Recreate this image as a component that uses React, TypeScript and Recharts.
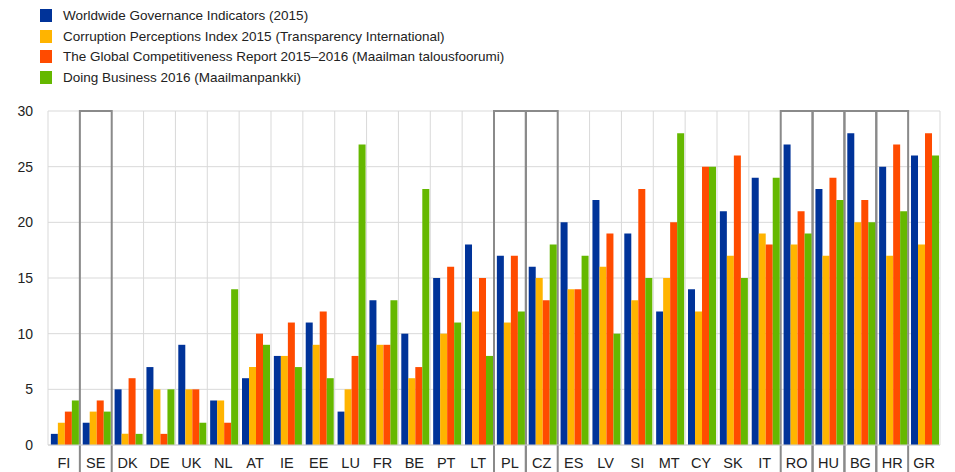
import { BarChart, Bar, XAxis, YAxis, CartesianGrid, ReferenceArea } from 'recharts';

const countries = ['FI', 'SE', 'DK', 'DE', 'UK', 'NL', 'AT', 'IE', 'EE', 'LU', 'FR', 'BE', 'PT', 'LT',
    'PL', 'CZ', 'ES', 'LV', 'SI', 'MT', 'CY', 'SK', 'IT', 'RO', 'HU', 'BG', 'HR', 'GR'];

const wgi = [1, 2, 5, 7, 9, 4, 6, 8, 11, 3, 13, 10, 15, 18, 17, 16, 20, 22, 19, 12, 14, 21, 24, 27, 23, 28, 25, 26];
const cpi = [2, 3, 1, 5, 5, 4, 7, 8, 9, 5, 9, 6, 10, 12, 11, 15, 14, 16, 13, 15, 12, 17, 19, 18, 17, 20, 17, 18];
const gcr = [3, 4, 6, 1, 5, 2, 10, 11, 12, 8, 9, 7, 16, 15, 17, 13, 14, 19, 23, 20, 25, 26, 18, 21, 24, 22, 27, 28];
const doingBusiness = [4, 3, 1, 5, 2, 14, 9, 7, 6, 27, 13, 23, 11, 8, 12, 18, 17, 10, 15, 28, 25, 15, 24, 19, 22, 20, 21, 26];

const yTicks = [0, 5, 10, 15, 20, 25, 30];
const boxed = ['SE', 'PL', 'CZ', 'RO', 'HU', 'BG', 'HR'];

const series = [
    { key: 'wgi', name: 'Worldwide Governance Indicators (2015)', color: '#003399' },
    { key: 'cpi', name: 'Corruption Perceptions Index 2015 (Transparency International)', color: '#FFB400' },
    { key: 'gcr', name: 'The Global Competitiveness Report 2015–2016 (Maailman talousfoorumi)', color: '#FF4B00' },
    { key: 'db', name: 'Doing Business 2016 (Maailmanpankki)', color: '#65B800' },
];

const data = countries.map((c, i) => ({
    country: c,
    wgi: wgi[i],
    cpi: cpi[i],
    gcr: gcr[i],
    db: doingBusiness[i],
}));

const font = '"Liberation Sans", Arial, sans-serif';

export default function App() {
    return (
        <div style={{ position: 'absolute', left: 0, top: 0, width: 955, height: 472, background: '#fff', fontFamily: font }}>
            {/* legend */}
            <div style={{ position: 'absolute', left: 40, top: 5 }}>
                {series.map((s) => (
                    <div key={s.key} style={{ display: 'flex', alignItems: 'center', height: 20.7 }}>
                        <span style={{ width: 12, height: 13, background: s.color, display: 'inline-block' }} />
                        <span style={{ marginLeft: 11, fontSize: 13.5, color: '#222' }}>{s.name}</span>
                    </div>
                ))}
            </div>
            <BarChart
                width={955}
                height={472}
                data={data}
                margin={{ top: 111, right: 15, bottom: 0, left: 0 }}
                barCategoryGap="9%"
                barGap={0}
                style={{ position: 'absolute', left: 0, top: 0 }}
            >
                <CartesianGrid
                    stroke="#d9d9d9"
                    strokeWidth={1}
                    verticalCoordinatesGenerator={({ offset }: any) =>
                        Array.from({ length: countries.length + 1 }, (_, i) => offset.left + (i * offset.width) / countries.length)
                    }
                />
                <XAxis
                    dataKey="country"
                    height={27}
                    tickLine={false}
                    tickMargin={7}
                    axisLine={{ stroke: '#d0d0d0' }}
                    interval={0}
                    tick={{ fill: '#222', fontSize: 14.5, fontFamily: font }}
                />
                <YAxis
                    width={48}
                    domain={[0, 30]}
                    ticks={yTicks}
                    axisLine={false}
                    tickLine={false}
                    tickMargin={9}
                    tick={{ fill: '#222', fontSize: 14, fontFamily: font }}
                />
                {series.map((s) => (
                    <Bar key={s.key} dataKey={s.key} name={s.name} fill={s.color} isAnimationActive={false} />
                ))}
                {boxed.map((c) => (
                    <ReferenceArea
                        key={c}
                        x1={c}
                        x2={c}
                        y1={-5}
                        y2={30}
                        ifOverflow="visible"
                        fill="none"
                        fillOpacity={0}
                        stroke="#8a8a8a"
                        strokeWidth={2}
                    />
                ))}
            </BarChart>
        </div>
    );
}
